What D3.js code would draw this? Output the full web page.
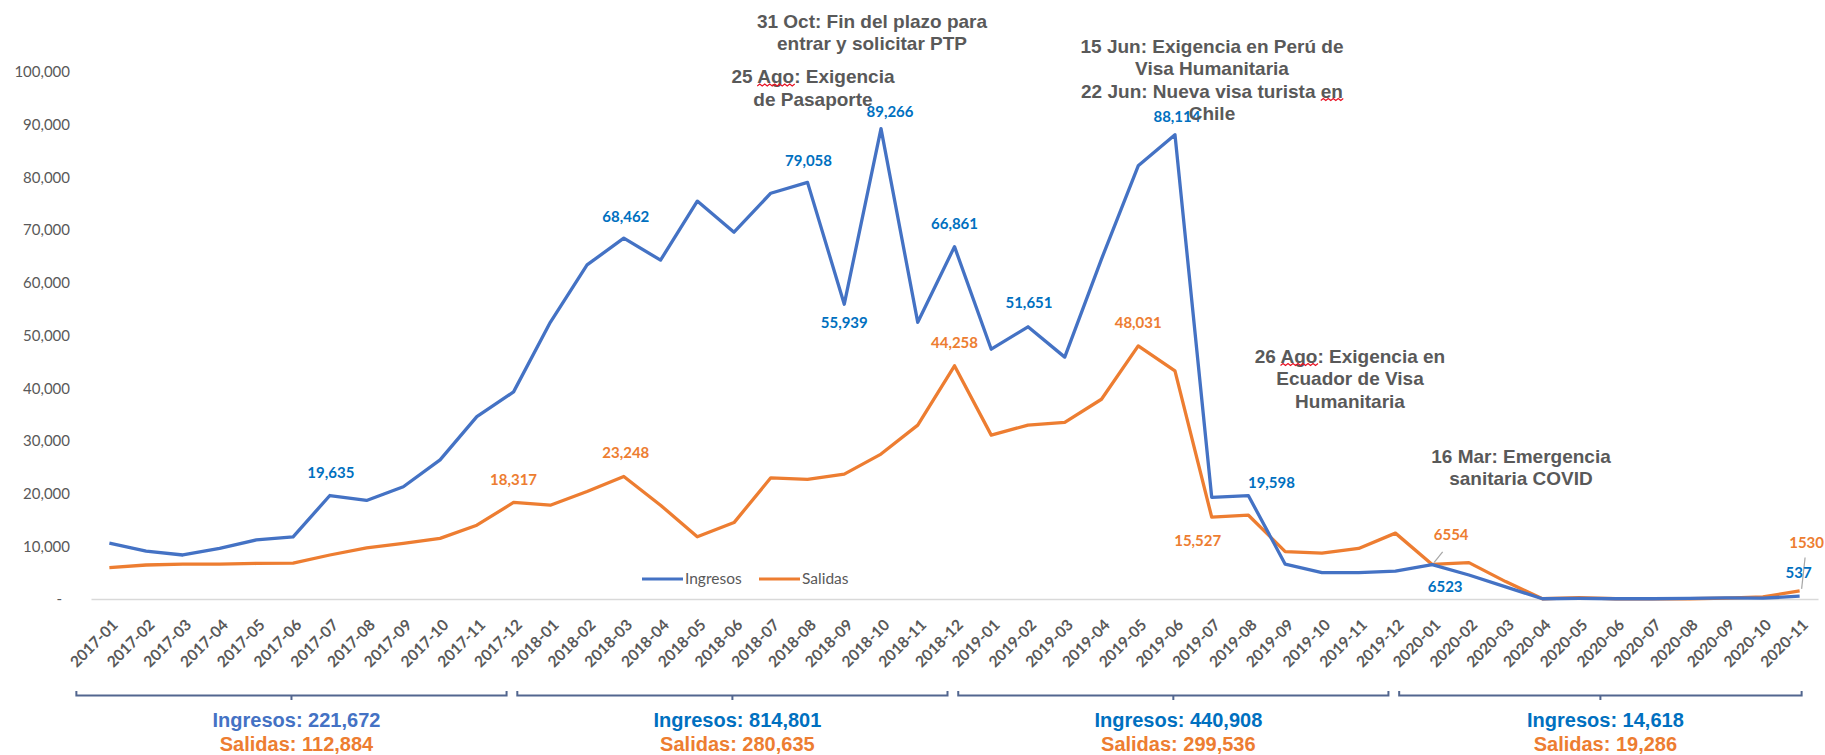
<!DOCTYPE html>
<html>
<head>
<meta charset="utf-8">
<script src="https://cdn.jsdelivr.net/npm/d3@7"></script>
<style>
  body { margin: 0; background: #fff; }
  svg { display: block; }
</style>
</head>
<body>
<div id="chart"></div>
<script>
// monthly categories
const months = [
  '2017-01', '2017-02', '2017-03', '2017-04', '2017-05', '2017-06', '2017-07', '2017-08', '2017-09', '2017-10', '2017-11', '2017-12',
  '2018-01', '2018-02', '2018-03', '2018-04', '2018-05', '2018-06', '2018-07', '2018-08', '2018-09', '2018-10', '2018-11', '2018-12',
  '2019-01', '2019-02', '2019-03', '2019-04', '2019-05', '2019-06', '2019-07', '2019-08', '2019-09', '2019-10', '2019-11', '2019-12',
  '2020-01', '2020-02', '2020-03', '2020-04', '2020-05', '2020-06', '2020-07', '2020-08', '2020-09', '2020-10', '2020-11',
];

const ingresos = [
  10600, 9100, 8350, 9600, 11200, 11800, 19635, 18700, 21300, 26400, 34600, 39300,
  52500, 63400, 68462, 64300, 75500, 69600, 77000, 79058, 55939, 89266, 52500, 66861,
  47400, 51651, 45900, 64500, 82200, 88114, 19300, 19598, 6600, 5000, 5000, 5300,
  6523, 4550, 2300, 50, 100, 50, 50, 100, 200, 150, 537,
];

const salidas = [
  5950, 6450, 6600, 6600, 6750, 6800, 8350, 9700, 10550, 11500, 14000, 18317,
  17800, 20400, 23248, 17800, 11800, 14500, 23000, 22700, 23700, 27500, 33000, 44258,
  31100, 33000, 33500, 37900, 48031, 43300, 15527, 15900, 9000, 8700, 9600, 12500,
  6554, 6900, 3300, 50, 250, 50, 50, 50, 150, 400, 1530,
];

const yTicks = [0, 10000, 20000, 30000, 40000, 50000, 60000, 70000, 80000, 90000, 100000];

// which months get a value label
const ingresosLabeled = ['2017-07', '2018-03', '2018-08', '2018-09', '2018-10', '2018-12', '2019-02', '2019-06', '2019-08', '2020-01', '2020-11'];
const salidasLabeled = ['2017-12', '2018-03', '2018-12', '2019-05', '2019-07', '2020-01', '2020-11'];

// period totals
const periodStart = ['2017-01', '2018-01', '2019-01', '2020-01'];
const periodEnd = ['2017-12', '2018-12', '2019-12', '2020-11'];
const totalIngresos = [221672, 814801, 440908, 14618];
const totalSalidas = [112884, 280635, 299536, 19286];

// event notes
const notes = [
  ['31 Oct: Fin del plazo para', 'entrar y solicitar PTP'],
  ['25 Ago: Exigencia', 'de Pasaporte'],
  ['15 Jun: Exigencia en Perú de', 'Visa Humanitaria', '22 Jun: Nueva visa turista en', 'Chile'],
  ['26 Ago: Exigencia en', 'Ecuador de Visa', 'Humanitaria'],
  ['16 Mar: Emergencia', 'sanitaria COVID'],
];

// ---- layout ----
const width = 1825;
const height = 755;
const blue = '#4472C4';
const blueText = '#0070C0';
const orange = '#ED7D31';
const grey = '#595959';

const labelFont = 'Lato, "Open Sans", sans-serif';
const noteFont = '"Liberation Sans", Arial, sans-serif';

// label offsets (dx, dy of label centre from the point)
const ingresosOffset = {
  '2017-07': [1, -23], '2018-03': [2, -22], '2018-08': [1, -22], '2018-09': [0, 18],
  '2018-10': [9, -17], '2018-12': [0, -23], '2019-02': [1, -24], '2019-06': [2, -18],
  '2019-08': [23, -13], '2020-01': [13, 22], '2020-11': [-1, -24],
};
const salidasOffset = {
  '2017-12': [0, -23], '2018-03': [2, -24], '2018-12': [0, -23], '2019-05': [0, -23],
  '2019-07': [-14, 23], '2020-01': [19, -30], '2020-11': [7, -48],
};

// note placement: centre x, first baseline
const notePos = [[872, 27.5], [813, 83], [1212, 52.5], [1350, 362.5], [1521, 462.5]];
const noteLine = 22.5;

const svg = d3.select('#chart')
  .append('svg')
  .attr('width', width)
  .attr('height', height);

const x = d3.scalePoint()
  .domain(months)
  .range([91, 1818])
  .padding(0.5);

const y = d3.scaleLinear()
  .domain([0, 100000])
  .range([599, 72]);

// y axis
const yAxis = svg.append('g')
  .attr('transform', 'translate(70,0)')
  .call(d3.axisLeft(y)
    .tickValues(yTicks)
    .tickSize(0)
    .tickPadding(0)
    .tickFormat(d => (d === 0 ? '-' : d3.format(',')(d))));
yAxis.select('.domain').remove();
yAxis.selectAll('text')
  .attr('font-family', labelFont)
  .attr('font-size', 15)
  .attr('fill', grey)
  .attr('dx', d => (d === 0 ? -8 : 0));

// x axis
const xAxis = svg.append('g')
  .attr('transform', 'translate(0,599)')
  .call(d3.axisBottom(x).tickSize(0).tickSizeOuter(0));
xAxis.select('.domain')
  .attr('stroke', '#d9d9d9')
  .attr('stroke-width', 1.5);
xAxis.selectAll('text')
  .attr('x', 0)
  .attr('y', 0)
  .attr('dy', 0)
  .attr('transform', 'translate(9,27) rotate(-45)')
  .attr('text-anchor', 'end')
  .attr('font-family', labelFont)
  .attr('font-weight', 'bold')
  .attr('font-size', 15.5)
  .attr('fill', grey);

// lines
const line = d3.line()
  .x((d, i) => x(months[i]))
  .y(d => y(d));

svg.append('path')
  .datum(salidas)
  .attr('fill', 'none')
  .attr('stroke', orange)
  .attr('stroke-width', 3.3)
  .attr('stroke-linejoin', 'round')
  .attr('d', line);

svg.append('path')
  .datum(ingresos)
  .attr('fill', 'none')
  .attr('stroke', blue)
  .attr('stroke-width', 3.3)
  .attr('stroke-linejoin', 'round')
  .attr('d', line);

// leader lines for the small labels
const leaders = [
  ['2020-01', salidas, salidasOffset, 0.55],
  ['2020-11', salidas, salidasOffset, 0.78],
];
leaders.forEach(([m, series, offs, k]) => {
  const px = x(m);
  const py = y(series[months.indexOf(m)]);
  const [dx, dy] = offs[m];
  svg.append('line')
    .attr('x1', px + 2)
    .attr('y1', py - 2)
    .attr('x2', px + dx * k)
    .attr('y2', py + dy * k + 4)
    .attr('stroke', '#a6a6a6')
    .attr('stroke-width', 1.2);
});

// value labels
const fmt = v => (v >= 10000 ? d3.format(',')(v) : String(v));

function valueLabels(series, labeled, offs, color) {
  svg.append('g')
    .selectAll('text')
    .data(labeled)
    .join('text')
    .attr('x', m => x(m) + offs[m][0])
    .attr('y', m => y(series[months.indexOf(m)]) + offs[m][1])
    .attr('dy', '0.36em')
    .attr('text-anchor', 'middle')
    .attr('font-family', labelFont)
    .attr('font-weight', 'bold')
    .attr('font-size', 15)
    .attr('fill', color)
    .text(m => fmt(series[months.indexOf(m)]));
}
valueLabels(salidas, salidasLabeled, salidasOffset, orange);
valueLabels(ingresos, ingresosLabeled, ingresosOffset, blueText);

// legend
const legend = svg.append('g')
  .attr('font-family', labelFont)
  .attr('font-size', 15.5)
  .attr('fill', grey);
[['Ingresos', blue, 642], ['Salidas', orange, 759]].forEach(([name, color, lx]) => {
  legend.append('line')
    .attr('x1', lx).attr('x2', lx + 41)
    .attr('y1', 579).attr('y2', 579)
    .attr('stroke', color)
    .attr('stroke-width', 3);
  legend.append('text')
    .attr('x', lx + 43)
    .attr('y', 584)
    .text(name);
});

// notes
function squiggle(textNode, word, cx) {
  const s = textNode.textContent;
  const idx = s.indexOf(word);
  const total = textNode.getComputedTextLength();
  const start = cx - total / 2 + textNode.getSubStringLength(0, idx);
  const len = textNode.getSubStringLength(idx, word.length);
  const by = +textNode.getAttribute('y') + 3;
  let d = `M${start},${by}`;
  for (let px = start, up = true; px < start + len; px += 2.5, up = !up) {
    d += ` L${px + 2.5},${by + (up ? -2 : 0)}`;
  }
  svg.append('path')
    .attr('d', d)
    .attr('fill', 'none')
    .attr('stroke', '#e81123')
    .attr('stroke-width', 1.2);
}

const misspelt = [[1, 0, 'Ago'], [2, 2, ' en'], [3, 0, 'Ago']];

notes.forEach((lines, i) => {
  const [cx, by] = notePos[i];
  lines.forEach((txt, j) => {
    const t = svg.append('text')
      .attr('x', cx)
      .attr('y', by + j * noteLine)
      .attr('text-anchor', 'middle')
      .attr('font-family', noteFont)
      .attr('font-weight', 'bold')
      .attr('font-size', 19)
      .attr('fill', grey)
      .text(txt);
    misspelt
      .filter(([ni, li]) => ni === i && li === j)
      .forEach(([, , w]) => squiggle(t.node(), w.trim(), cx));
  });
});

// period brackets and totals
const bracketColor = '#52668f';
periodStart.forEach((m, i) => {
  const x0 = x(m) - 33;
  const x1 = i === periodStart.length - 1 ? x(periodEnd[i]) + 2 : x(periodEnd[i]) - 7;
  const cx = (x0 + x1) / 2;
  svg.append('path')
    .attr('d', `M${x0},691 V695.5 H${x1} V691 M${cx},695.5 V700`)
    .attr('fill', 'none')
    .attr('stroke', bracketColor)
    .attr('stroke-width', 2);
  const g = svg.append('g')
    .attr('font-family', noteFont)
    .attr('font-weight', 'bold')
    .attr('font-size', 20)
    .attr('text-anchor', 'middle');
  g.append('text')
    .attr('x', cx + 5)
    .attr('y', 727)
    .attr('fill', i === 0 ? blue : blueText)
    .text(`Ingresos: ${d3.format(',')(totalIngresos[i])}`);
  g.append('text')
    .attr('x', cx + 5)
    .attr('y', 751)
    .attr('fill', orange)
    .text(`Salidas: ${d3.format(',')(totalSalidas[i])}`);
});
</script>
</body>
</html>
